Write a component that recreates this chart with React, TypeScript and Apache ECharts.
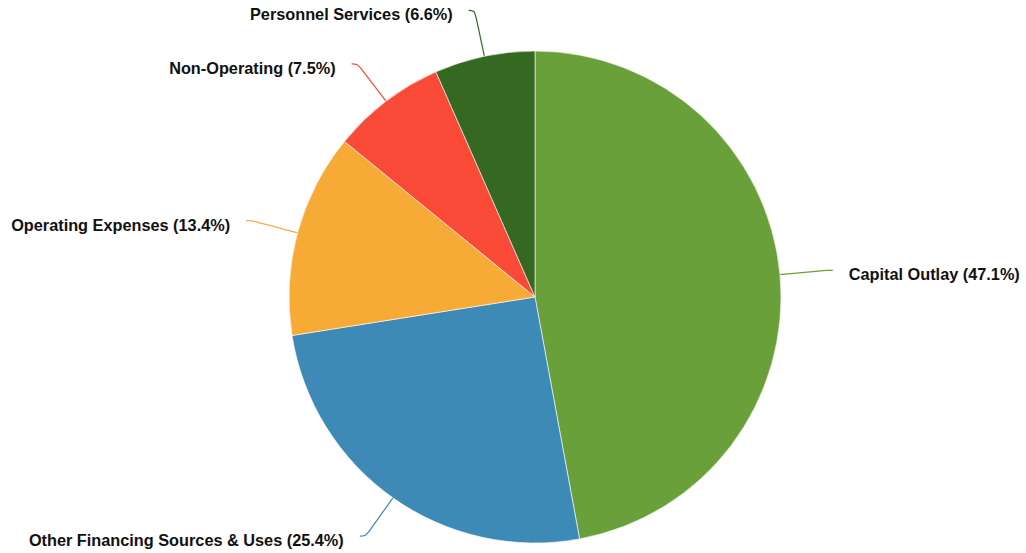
import React, { useEffect, useRef } from "react";
import * as echarts from "echarts";

const categories = [
  "Capital Outlay",
  "Other Financing Sources & Uses",
  "Operating Expenses",
  "Non-Operating",
  "Personnel Services",
];
const percents = [47.1, 25.4, 13.4, 7.5, 6.6];
const colors = ["#6aa03a", "#3c8ab5", "#f8aa37", "#f94a37", "#356821"];

export default function App() {
  const ref = useRef<HTMLDivElement>(null);
  useEffect(() => {
    document.body.style.margin = "0";
    const chart = echarts.init(ref.current!, null, { renderer: "svg" });
    chart.setOption({
      animation: false,
      backgroundColor: "#ffffff",
      series: [
        {
          type: "pie",
          center: [535, 297],
          radius: 246,
          startAngle: 90,
          clockwise: true,
          avoidLabelOverlap: false,
          data: categories.map((name, i) => ({
            name,
            value: percents[i],
            itemStyle: { color: colors[i] },
            labelLine: { lineStyle: { color: colors[i] } },
          })),
          itemStyle: { borderColor: "#ffffff", borderWidth: 0.6 },
          label: {
            show: true,
            position: "outside",
            formatter: (p: any) => `${p.name} (${p.value.toFixed(1)}%)`,
            fontFamily: "'Liberation Sans'",
            fontSize: 16.3,
            fontWeight: "bold",
            color: "#111111",
            distanceToLabelLine: 16,
          },
          labelLayout: { dy: 4 },
          labelLine: {
            show: true,
            length: 47,
            length2: 6,
            smooth: 0.4,
            lineStyle: { width: 1.2 },
          },
          emphasis: { disabled: true },
        },
      ],
    });
    return () => chart.dispose();
  }, []);
  return (
    <div
      ref={ref}
      style={{ position: "absolute", left: 0, top: 0, width: 1026, height: 553 }}
    />
  );
}
